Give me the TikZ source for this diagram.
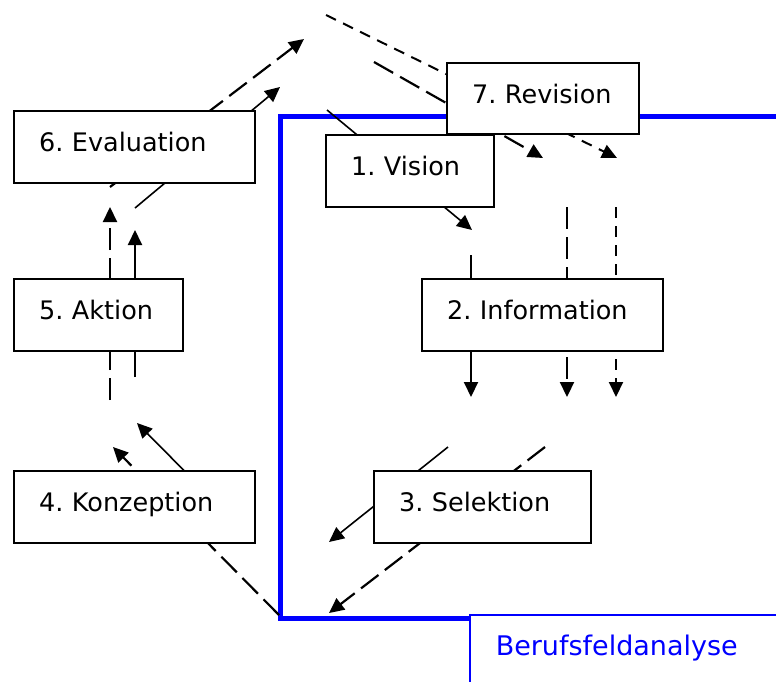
\documentclass[tikz,border=0pt]{standalone}
\usepackage{fontspec}
\setmainfont{DejaVu Sans}
\usetikzlibrary{arrows.meta}
\definecolor{frameblue}{RGB}{0,0,255}
\tikzset{
  stepbox/.style={draw, line width=2.3pt, fill=white, anchor=north west, inner xsep=25pt, inner ysep=0pt,
    text height=40pt, text depth=32pt, align=left, font=\fontsize{25.5}{30}\selectfont\frenchspacing},
  fieldbox/.style={stepbox, draw=frameblue, line width=1.5pt, text=frameblue, inner xsep=26pt,
    text height=41pt, text depth=60pt, font=\fontsize{27}{32}\selectfont},
  arrhead/.style={-{Triangle[length=15pt,width=14pt]}},
  solidarr/.style={arrhead, line width=1.6pt},
  longdash/.style={arrhead, line width=2.2pt, dash pattern=on 22pt off 8pt},
  shortdash/.style={arrhead, line width=2pt, dash pattern=on 11pt off 8pt},
  blueframe/.style={frameblue, line width=5pt},
}
\begin{document}
\begin{tikzpicture}[x=1pt,y=-1pt]
  \clip (0,0) rectangle (776,681);
  \fill[white] (0,0) rectangle (776,681);

  % frame of the Berufsfeldanalyse
  \draw[blueframe] (790,116) -- (280.5,116) -- (280.5,618) -- (470,618);

  % end points of the connectors (the boxes hide their middle parts)
  \coordinate (l1a) at (110,187);  \coordinate (l1b) at (304,39);
  \coordinate (l2a) at (135,208);  \coordinate (l2b) at (280,87);
  \coordinate (l3a) at (326,15);   \coordinate (l3b) at (617,158);
  \coordinate (l4a) at (374,62);   \coordinate (l4b) at (543,158);
  \coordinate (l5a) at (327,110);  \coordinate (l5b) at (472,230);
  \coordinate (l6a) at (471,255);  \coordinate (l6b) at (471,397);
  \coordinate (l7a) at (567,207);  \coordinate (l7b) at (567,397);
  \coordinate (l8a) at (616,207);  \coordinate (l8b) at (616,397);
  \coordinate (l9a) at (448,447);  \coordinate (l9b) at (329,542);
  \coordinate (l10a) at (545,447); \coordinate (l10b) at (329,613);
  \coordinate (l11a) at (279,615); \coordinate (l11b) at (113,447);
  \coordinate (l12a) at (230,517); \coordinate (l12b) at (137,423);
  \coordinate (l13a) at (110,400); \coordinate (l13b) at (110,207);
  \coordinate (l14a) at (135,377); \coordinate (l14b) at (135,230);

  \draw[longdash] (l1a) -- (l1b);
  \draw[solidarr] (l2a) -- (l2b);
  \draw[shortdash] (l3a) -- (l3b);
  \draw[longdash] (l4a) -- (l4b);
  \draw[solidarr] (l5a) -- (l5b);
  \draw[solidarr, line width=2pt] (l6a) -- (l6b);
  \draw[longdash] (l7a) -- (l7b);
  \draw[shortdash] (l8a) -- (l8b);
  \draw[solidarr] (l9a) -- (l9b);
  \draw[longdash] (l10a) -- (l10b);
  \draw[longdash] (l11a) -- (l11b);
  \draw[solidarr] (l12a) -- (l12b);
  \draw[longdash] (l13a) -- (l13b);
  \draw[solidarr, line width=2pt] (l14a) -- (l14b);

  % the steps
  \node[stepbox, text width=191pt] (evaluation) at (13,110) {6. Evaluation};
  \node[stepbox, text width=142pt, text depth=31pt] (revision) at (446,62) {\mbox{7. Revision}};
  \node[stepbox, text width=118pt] (vision) at (325,134) {1. Vision};
  \node[stepbox, text width=119pt] (aktion) at (13,278) {5. Aktion};
  \node[stepbox, text width=191pt] (information) at (421,278) {2. Information};
  \node[stepbox, text width=191pt] (konzeption) at (13,470) {4. Konzeption};
  \node[stepbox, text width=167pt] (selektion) at (373,470) {3. Selektion};

  \node[fieldbox, text width=300pt] (analyse) at (469,614) {Berufsfeldanalyse};
\end{tikzpicture}
\end{document}
